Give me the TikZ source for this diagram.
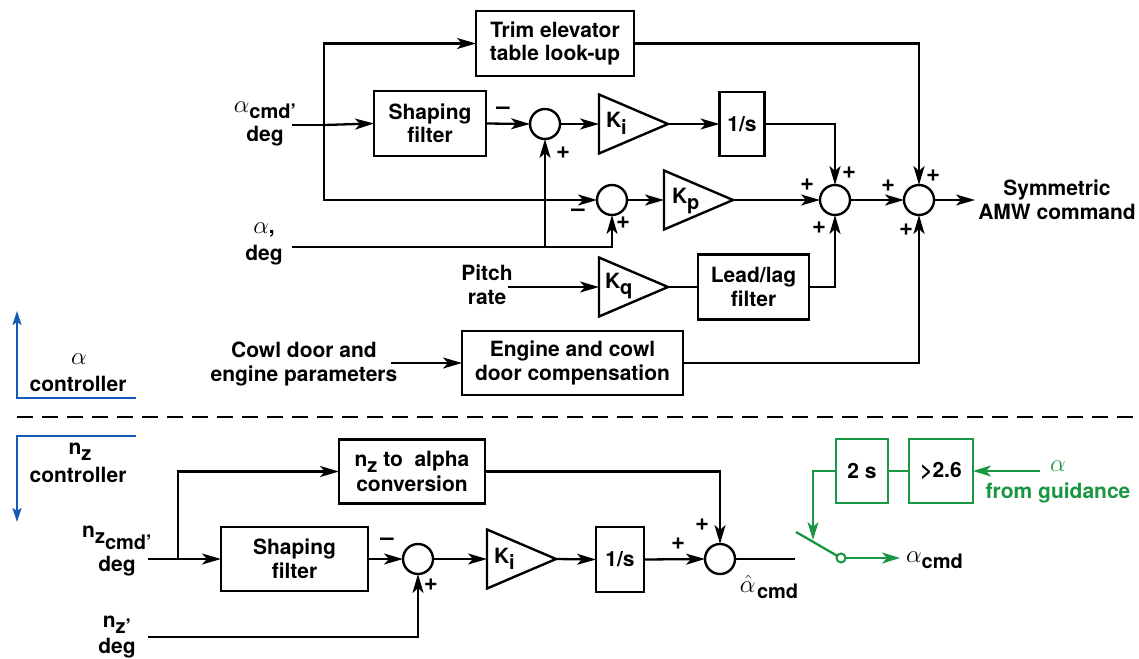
\documentclass[tikz,border=0pt]{standalone}
\usepackage{fontspec}
\setmainfont{TeX Gyre Heros}
\usetikzlibrary{arrows.meta,shapes.geometric}
\definecolor{gr}{RGB}{25,150,65}
\definecolor{bl}{RGB}{20,90,185}
\newcommand{\sbs}[1]{\raisebox{-6pt}{\fontsize{20}{20}\selectfont #1}}
\newcommand{\al}{{\fontsize{24.88}{25}\selectfont$\alpha$}}
\newcommand{\alh}{{\fontsize{24.88}{25}\selectfont$\hat{\alpha}$}}
\begin{document}
\begin{tikzpicture}[x=1pt,y=-1pt,
  every node/.style={font=\fontsize{21}{23.5}\selectfont\bfseries, inner sep=0pt, outer sep=0pt},
  blk/.style={draw, line width=2.7pt, align=center},
  sumc/.style={circle, draw, line width=2.4pt, minimum size=30pt},
  gain/.style={isosceles triangle, isosceles triangle stretches, draw, line width=2.4pt, minimum height=69pt, minimum width=59pt},
  wire/.style={line width=2.3pt},
  arr/.style={wire, -{Stealth[length=19pt,width=11pt,inset=5pt]}},
  gwire/.style={line width=2.3pt, draw=gr},
  garr/.style={gwire, -{Stealth[length=18pt,width=11pt,inset=5pt]}},
  barr/.style={line width=2pt, draw=bl, -{Stealth[length=14pt,width=9pt,inset=3pt]}},
  sgn/.style={font=\fontsize{24}{24}\selectfont\bfseries}
]
\useasboundingbox (0,0) rectangle (1139,658);

% ---------- alpha controller ----------
\node[blk, minimum width=158pt, minimum height=65pt] (trim) at (555,43.5) {Trim elevator\\table look-up};
\node[blk, minimum width=112pt, minimum height=65pt] (sf1) at (430,123.5) {Shaping\\filter};
\node[sumc] (s1) at (545,124) {};
\node[gain, anchor=lower side] (ki1) at (599,124) {};
\node[anchor=base west] (ki1t) at (606,128) {K\sbs{i}};
\node[blk, minimum width=45pt, minimum height=64pt] (int1) at (742,124) {1/s};
\node[sumc] (s2) at (612,200) {};
\node[gain, anchor=lower side] (kp) at (664,200) {};
\node[anchor=base west] (kpt) at (672,203) {K\sbs{p}};
\node[sumc] (s3) at (835,200) {};
\node[sumc] (s4) at (919,200) {};
\node[align=center] (outlbl) at (1057,200) {Symmetric\\AMW command};
\node[gain, anchor=lower side] (kq) at (599,287) {};
\node[anchor=base west] (kqt) at (605,288) {K\sbs{q}};
\node[blk, minimum width=111pt, minimum height=65pt] (lead) at (753.5,287) {Lead/lag\\filter};
\node[blk, minimum width=221pt, minimum height=64pt] (eng) at (572.5,363) {Engine and cowl\\door compensation};

\node[align=center] (acmd) at (265,124) {\al\sbs{cmd’}\\[5pt]deg};
\node[align=center] (alin) at (264,244) {\al,\\[3pt]deg};
\node[align=center] (pitch) at (487,285) {Pitch\\rate};
\node[align=center] (cowl) at (304,364) {Cowl door and\\engine parameters};

\coordinate (acin) at (292,125);
\coordinate (br1) at (324,125);
\coordinate (alin0) at (292,247);
\coordinate (br2) at (545,247);
\coordinate (pin) at (508,287);
\coordinate (cin) at (391,363);
\coordinate (outend) at (975,200);

\draw[wire] (acin) -- (br1);
\draw[arr] (br1) -- (sf1.west);
\draw[arr] (br1) |- (trim.west);
\draw[arr] (br1) |- (s2.west);
\draw[arr] (sf1.east) -- (s1.west);
\draw[arr] (s1.east) -- (ki1.lower side);
\draw[arr] (ki1.apex) -- (int1.west);
\draw[arr] (int1.east) -| (s3.north);
\draw[arr] (alin0) -| (s2.south);
\draw[arr] (br2) -- (s1.south);
\draw[arr] (s2.east) -- (kp.lower side);
\draw[arr] (kp.apex) -- (s3.west);
\draw[arr] (s3.east) -- (s4.west);
\draw[arr] (s4.east) -- (outend);
\draw[arr] (pin) -- (kq.lower side);
\draw[wire] (kq.apex) -- (lead.west);
\draw[arr] (lead.east) -| (s3.south);
\draw[arr] (cin) -- (eng.west);
\draw[arr] (eng.east) -| (s4.south);
\draw[arr] (trim.east) -| (s4.north);

\node[sgn] (sg1) at (503,111) {–};
\node[sgn] (sg2) at (563,153) {+};
\node[sgn] (sg3) at (578,213) {–};
\node[sgn] (sg4) at (623,223) {+};
\node[sgn] (sg5) at (849,173) {+};
\node[sgn] (sg6) at (807,185) {+};
\node[sgn] (sg7) at (819,228) {+};
\node[sgn] (sg8) at (933,176) {+};
\node[sgn] (sg9) at (888,186) {+};
\node[sgn] (sg10) at (906,230) {+};

% ---------- section marks ----------
\coordinate (bu0) at (136,398);
\coordinate (bu1) at (17,398);
\coordinate (bu2) at (17,311);
\draw[barr] (bu0) -- (bu1) -- (bu2);
\node (actla) at (79,359) {\al};
\node (actlb) at (78,384) {controller};
\coordinate (dl0) at (17,417);
\coordinate (dl1) at (1139,417);
\draw[wire, dash pattern=on 16pt off 9pt] (dl0) -- (dl1);
\coordinate (bd0) at (136,436);
\coordinate (bd1) at (17,436);
\coordinate (bd2) at (17,522);
\draw[barr] (bd0) -- (bd1) -- (bd2);
\node (nctla) at (80,452) {n\sbs{z}};
\node (nctlb) at (78,475) {controller};

% ---------- nz controller ----------
\node[blk, minimum width=146pt, minimum height=64pt] (nzb) at (412,471.5) {n\sbs{z} to\ \ alpha\\[2pt]conversion};
\node[blk, minimum width=147pt, minimum height=64pt] (sf2) at (294.5,559) {Shaping\\filter};
\node[sumc] (s5) at (418,559) {};
\node[gain, anchor=lower side] (ki2) at (487,559) {};
\node[anchor=base west] (ki2t) at (494,563) {K\sbs{i}};
\node[blk, minimum width=48pt, minimum height=65pt] (int2) at (620,559.5) {1/s};
\node[sumc] (s6) at (720,559) {};

\node[align=center] (nzcl) at (117,551) {n\sbs{z\sbs{cmd’}}\\[6pt]deg};
\node[align=center] (nzl) at (117,637) {n\sbs{z’}\\[2pt]deg};
\node (ahat) at (769,587) {\alh\kern1.5pt\sbs{cmd}};

\coordinate (nzin) at (148,559);
\coordinate (br3) at (178,559);
\coordinate (nzin2) at (148,637);
\coordinate (s6out) at (795,559);

\draw[wire] (nzin) -- (br3);
\draw[arr] (br3) -- (sf2.west);
\draw[arr] (br3) |- (nzb.west);
\draw[arr] (sf2.east) -- (s5.west);
\draw[arr] (s5.east) -- (ki2.lower side);
\draw[arr] (ki2.apex) -- (int2.west);
\draw[arr] (int2.east) -- (s6.west);
\draw[arr] (nzb.east) -| (s6.north);
\draw[arr] (nzin2) -| (s5.south);
\draw[wire] (s6.east) -- (s6out);

\node[sgn] (sg11) at (387,542) {–};
\node[sgn] (sg12) at (431,585) {+};
\node[sgn] (sg13) at (702,525) {+};
\node[sgn] (sg14) at (678,544) {+};

% ---------- green switch logic ----------
\node[blk, draw=gr, minimum width=52pt, minimum height=64pt] (b2s) at (862,471) {2 s};
\node[blk, draw=gr, minimum width=64pt, minimum height=64pt] (b26) at (941,471) {>2.6};
\draw[gwire] (b2s.east) -- (b26.west);
\coordinate (gin) at (1040,471);
\draw[garr] (gin) -- (b26.east);
\node[align=center, text=gr] (gal) at (1058,482) {\al\\[3pt]from guidance};
\coordinate (gk) at (813,471);
\coordinate (gsw) at (813,540);
\draw[garr] (b2s.west) -- (gk) -- (gsw);
\coordinate (swa) at (796,532);
\node[circle, draw=gr, line width=2pt, minimum size=9pt] (swc) at (841,558) {};
\draw[gwire] (swa) -- (swc);
\coordinate (gout) at (900,558);
\draw[garr] (swc) -- (gout);
\node[anchor=west] (acmdo) at (906,560) {\al\sbs{cmd}};
\end{tikzpicture}
\end{document}
